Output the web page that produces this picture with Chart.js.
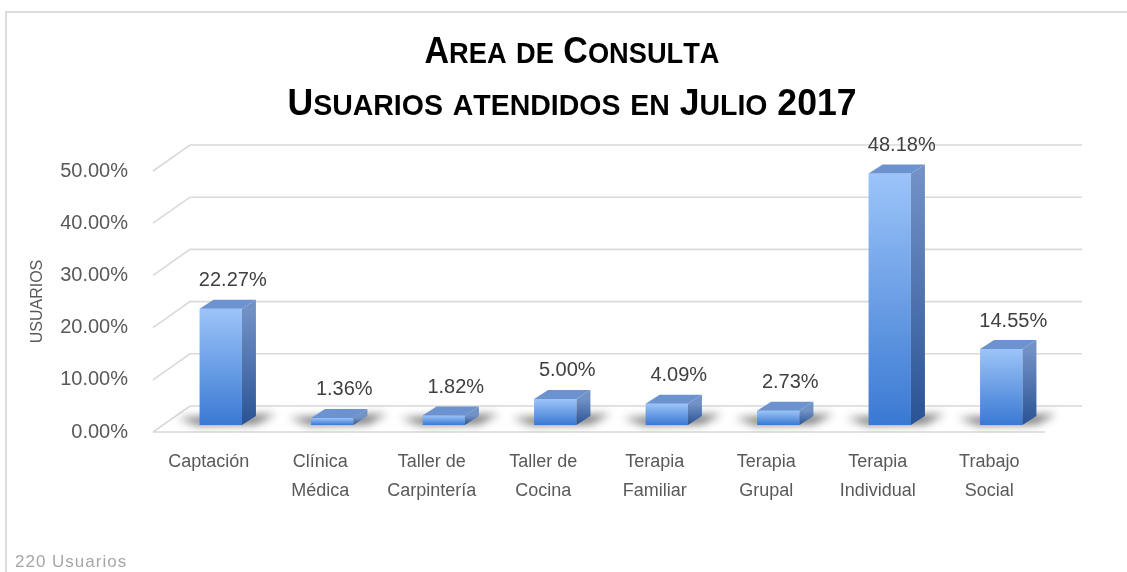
<!DOCTYPE html>
<html><head><meta charset="utf-8">
<script src="https://cdn.jsdelivr.net/npm/chart.js@4.4.1/dist/chart.umd.min.js"></script>
<style>
html,body{margin:0;padding:0;background:#fff;overflow:hidden;}
#wrap{position:relative;width:1127px;height:572px;overflow:hidden;}
#frame{position:absolute;left:5px;top:11px;width:1200px;height:700px;border:2px solid #dcdcdc;box-sizing:border-box;}
canvas{position:absolute;left:0;top:0;}
</style></head><body>
<div id="wrap"><div id="frame"></div><canvas id="c" width="1127" height="572"></canvas></div>
<script>
// ---- data ----
const categories = [['Captación'], ['Clínica', 'Médica'], ['Taller de', 'Carpintería'], ['Taller de', 'Cocina'], ['Terapia', 'Familiar'], ['Terapia', 'Grupal'], ['Terapia', 'Individual'], ['Trabajo', 'Social']];
const values = [22.27, 1.36, 1.82, 5.00, 4.09, 2.73, 48.18, 14.55];
const yTicks = [0, 10, 20, 30, 40, 50];
const titleLines = ['Area de Consulta', 'Usuarios atendidos en Julio 2017'];
const axisTitle = 'USUARIOS';
const footnote = '220 Usuarios';

// ---- style / layout constants ----
const FONT = '"Liberation Sans", Arial, sans-serif';
const FLOOR_DX = 37, FLOOR_DY = -26;      // wall depth
const BAR_OX = 12, BAR_OY = -7;           // bar placement inside depth
const BAR_DX = 14, BAR_DY = -9;           // bar depth
const TITLE_CX = 572, TITLE_BASE = [63, 115], TITLE_W = [295, 569], TITLE_SIZE = 37;

Chart.defaults.font.family = FONT;

const fmt = v => v.toFixed(2) + '%';

const threeD = {
  id: 'threeD',
  beforeDatasetsDraw(chart) {
    const {ctx, chartArea: a, scales: {y}} = chart;
    ctx.save();
    ctx.strokeStyle = '#d9d9d9';
    ctx.lineWidth = 1.6;
    y.ticks.forEach(t => {
      const py = y.getPixelForValue(t.value);
      ctx.beginPath();
      ctx.moveTo(a.left, py);
      ctx.lineTo(a.left + FLOOR_DX, py + FLOOR_DY);
      ctx.lineTo(a.right + FLOOR_DX, py + FLOOR_DY);
      ctx.stroke();
    });
    const p0 = y.getPixelForValue(0);
    ctx.beginPath(); ctx.moveTo(a.left, p0); ctx.lineTo(a.right, p0); ctx.stroke();
    ctx.restore();

    ctx.save();
    ctx.translate(BAR_OX, BAR_OY);
    const meta = chart.getDatasetMeta(0);
    meta.data.forEach(bar => {
      const {x, width, base} = bar.getProps(['x', 'width', 'base'], true);
      const l = x - width / 2, r = x + width / 2;
      ctx.save();
      ctx.filter = 'blur(4px)';
      ctx.fillStyle = 'rgba(0,0,0,0.55)';
      ctx.beginPath();
      ctx.moveTo(l - 2, base);
      ctx.lineTo(l - 22, base - 7);
      ctx.lineTo(r + BAR_DX + 20, base - 11);
      ctx.lineTo(r + BAR_DX, base - 1);
      ctx.closePath();
      ctx.fill();
      ctx.restore();
    });
  },
  afterDatasetsDraw(chart) {
    const {ctx} = chart;
    const meta = chart.getDatasetMeta(0);
    meta.data.forEach(bar => {
      const {x, y, width, base} = bar.getProps(['x', 'y', 'width', 'base'], true);
      const l = x - width / 2, r = x + width / 2;
      const gs = ctx.createLinearGradient(0, y, 0, base);
      gs.addColorStop(0, '#7292c6');
      gs.addColorStop(1, '#2a5394');
      ctx.fillStyle = gs;
      ctx.beginPath();
      ctx.moveTo(r, y); ctx.lineTo(r + BAR_DX, y + BAR_DY); ctx.lineTo(r + BAR_DX, base + BAR_DY); ctx.lineTo(r, base);
      ctx.closePath(); ctx.fill();
      ctx.fillStyle = '#6c93d0';
      ctx.beginPath();
      ctx.moveTo(l, y); ctx.lineTo(l + BAR_DX, y + BAR_DY); ctx.lineTo(r + BAR_DX, y + BAR_DY); ctx.lineTo(r, y);
      ctx.closePath(); ctx.fill();
    });
    ctx.restore();

    // value labels
    ctx.save();
    ctx.font = '20px ' + FONT;
    ctx.fillStyle = '#404040';
    ctx.textAlign = 'center';
    ctx.textBaseline = 'middle';
    meta.data.forEach((bar, i) => {
      const {x, y} = bar.getProps(['x', 'y'], true);
      ctx.fillText(fmt(values[i]), x + 24, y + BAR_OY - 28);
    });
    ctx.restore();
  },
  afterDraw(chart) {
    const {ctx} = chart;
    // title with small caps
    ctx.save();
    ctx.fillStyle = '#000';
    ctx.textBaseline = 'alphabetic';
    ctx.textAlign = 'left';
    titleLines.forEach((line, i) => {
      const parts = [...line].map(ch => {
        const low = ch !== ch.toUpperCase();
        return {t: ch.toUpperCase(), s: low ? TITLE_SIZE * 0.8 : TITLE_SIZE};
      });
      let w = 0;
      parts.forEach(p => { ctx.font = 'bold ' + p.s + 'px ' + FONT; p.w = ctx.measureText(p.t).width; w += p.w; });
      const sx = TITLE_W[i] / w;
      ctx.save();
      ctx.translate(TITLE_CX - TITLE_W[i] / 2, TITLE_BASE[i]);
      ctx.scale(sx, 1);
      let cx = 0;
      parts.forEach(p => { ctx.font = 'bold ' + p.s + 'px ' + FONT; ctx.fillText(p.t, cx, 0); cx += p.w; });
      ctx.restore();
    });
    ctx.restore();
    // footnote
    ctx.save();
    ctx.font = '17px ' + FONT;
    if ('letterSpacing' in ctx) ctx.letterSpacing = '1px';
    ctx.fillStyle = '#a6a6a6';
    ctx.textBaseline = 'alphabetic';
    ctx.fillText(footnote, 15, 567);
    ctx.restore();
  }
};

new Chart(document.getElementById('c'), {
  type: 'bar',
  data: {
    labels: categories,
    datasets: [{
      data: values,
      backgroundColor: (c) => {
        const ch = c.chart, y = ch.scales && ch.scales.y;
        if (!y || c.type !== 'data') return '#5b8ee0';
        const top = y.getPixelForValue(c.raw), base = y.getPixelForValue(0);
        if (!isFinite(top) || !isFinite(base) || top === base) return '#5b8ee0';
        const g = ch.ctx.createLinearGradient(0, top, 0, base);
        g.addColorStop(0, '#9cc4f9');
        g.addColorStop(1, '#3a79d2');
        return g;
      },
      borderWidth: 0,
      barPercentage: 0.38,
      categoryPercentage: 1,
      clip: false
    }]
  },
  options: {
    responsive: false,
    devicePixelRatio: 1,
    animation: false,
    events: [],
    layout: {padding: {left: 20, right: 82, top: 171, bottom: 0}},
    plugins: {legend: {display: false}, tooltip: {enabled: false}, title: {display: false}},
    scales: {
      x: {
        grid: {display: false, drawTicks: false},
        border: {display: false},
        ticks: {color: '#595959', font: {size: 18, lineHeight: 1.6}, padding: 16, autoSkip: false, maxRotation: 0},
        afterFit: s => { s.height = 140; }
      },
      y: {
        min: 0, max: 50,
        grid: {display: false, drawTicks: false},
        border: {display: false},
        afterBuildTicks: s => { s.ticks = yTicks.map(v => ({value: v})); },
        ticks: {color: '#595959', font: {size: 20}, padding: 25, callback: v => fmt(v)},
        title: {display: true, text: axisTitle, color: '#595959', font: {size: 16}, padding: {top: 8, bottom: 0}},
        afterFit: s => { s.width = 133; }
      }
    }
  },
  plugins: [threeD]
});
</script>
</body></html>
